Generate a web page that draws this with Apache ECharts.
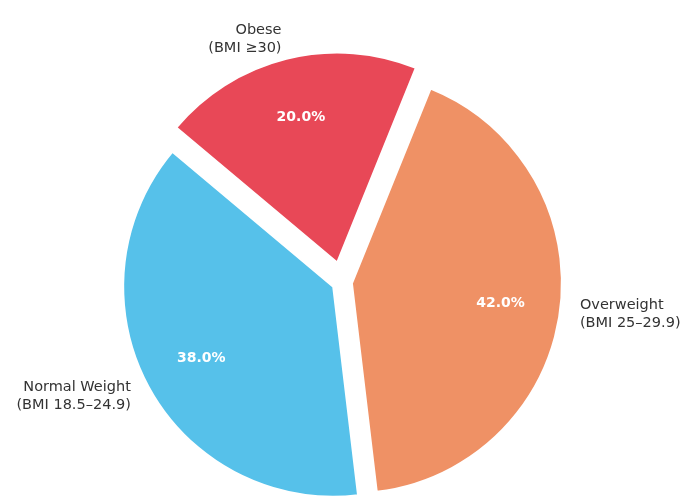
<!DOCTYPE html>
<html lang="en">
<head>
<meta charset="UTF-8">
<title>BMI distribution</title>
<script src="https://cdn.jsdelivr.net/npm/echarts@6/dist/echarts.min.js"></script>
<style>
  html, body { margin: 0; padding: 0; background: #fff; }
  #chart { width: 683px; height: 504px; }
</style>
</head>
<body>
<div id="chart"></div>
<script>
// slices, counter-clockwise from the start angle
const categories = ['Normal Weight', 'Overweight', 'Obese'];
const bmiRanges = ['(BMI 18.5–24.9)', '(BMI 25–29.9)', '(BMI ≥30)'];
const shares = [38, 42, 20];

// look
const colors = ['#56c1ea', '#ef9165', '#e84857'];
const explodePx = [10, 10, 20];
const CX = 342, CY = 282, R = 210;
const FONT = 'DejaVu Sans';
const hidden = { color: 'rgba(0,0,0,0)', borderWidth: 0 };

const chart = echarts.init(document.getElementById('chart'));

// one pie layer per explode group; kind = slice | pct | name
function layer(offset, radius, kind) {
    return {
        type: 'pie',
        center: [CX, CY],
        radius: radius,
        startAngle: 140,
        clockwise: false,
        selectedMode: 'multiple',
        selectedOffset: offset,
        silent: true,
        animation: false,
        avoidLabelOverlap: false,
        labelLine: { show: false },
        emphasis: { disabled: true },
        labelLayout: kind === 'name' ? function (p) {
            let mid = p.labelRect.x + p.labelRect.width / 2;
            return { align: mid < CX ? 'right' : 'left' };
        } : undefined,
        data: categories.map(function (name, i) {
            let mine = explodePx[i] === offset;
            let style = (kind === 'slice' && mine)
                ? { color: colors[i], borderColor: '#fff', borderWidth: 2 }
                : hidden;
            let label = { show: false };
            if (kind === 'pct' && mine) {
                label = {
                    show: true, position: 'inside',
                    formatter: p => p.percent.toFixed(1) + '%',
                    color: '#fff', fontWeight: 'bold', fontSize: 14, fontFamily: FONT
                };
            }
            if (kind === 'name' && mine) {
                label = {
                    show: true, position: 'inside',
                    formatter: name + '\n' + bmiRanges[i],
                    color: '#333', fontSize: 14.5, lineHeight: 18, fontFamily: FONT
                };
            }
            return {
                name: name,
                value: shares[i],
                selected: true,
                itemStyle: style,
                select: { itemStyle: style },
                label: label
            };
        })
    };
}

let groups = [...new Set(explodePx)];
let series = [];
groups.forEach(g => series.push(layer(g, [0, R], 'slice')));
groups.forEach(g => series.push(layer(g, [0.4 * R, R], 'pct')));
groups.forEach(g => series.push(layer(g, [R, 1.2 * R - 8], 'name')));

chart.setOption({
    backgroundColor: '#fff',
    animation: false,
    series: series
});
</script>
</body>
</html>
